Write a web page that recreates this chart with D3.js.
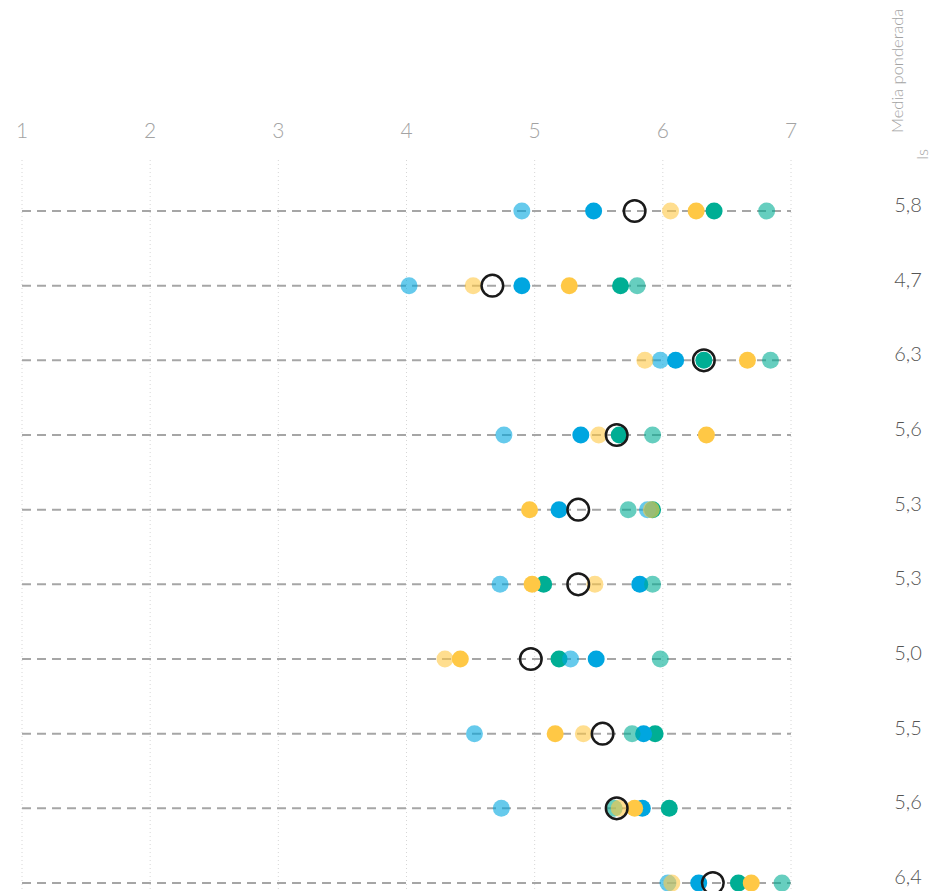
<!DOCTYPE html>
<html>
<head>
<meta charset="utf-8">
<script src="https://cdn.jsdelivr.net/npm/d3@7"></script>
<style>
  body { margin: 0; background: #fff; }
  text { font-family: Lato, "Open Sans", sans-serif; }
</style>
</head>
<body>
<div id="chart"></div>
<script>
const width = 933,
      height = 891;

// rows (no visible names in the picture)
const rows = ['r1', 'r2', 'r3', 'r4', 'r5', 'r6', 'r7', 'r8', 'r9', 'r10'];

// weighted mean per row
const means = [5.78, 4.67, 6.32, 5.64, 5.34, 5.34, 4.97, 5.53, 5.64, 6.39];

// series values, one array per series (same order as rows)
const tealVals      = [6.40, 5.67, 6.32, 5.66, 5.92, 5.07, 5.19, 5.94, 6.05, 6.59];
const blueVals      = [5.46, 4.90, 6.10, 5.36, 5.19, 5.82, 5.48, 5.85, 5.84, 6.28];
const yellowVals    = [6.26, 5.27, 6.66, 6.34, 4.96, 4.98, 4.42, 5.16, 5.78, 6.69];
const lightTealVals = [6.81, 5.80, 6.84, 5.92, 5.73, 5.92, 5.98, 5.76, 5.62, 6.93];
const lightBlueVals = [4.90, 4.02, 5.98, 4.76, 5.88, 4.73, 5.28, 4.53, 4.74, 6.04];
const lightYellowVals = [6.06, 4.52, 5.86, 5.50, 5.91, 5.47, 4.30, 5.38, 5.66, 6.07];

const series = [
  { key: 'teal', values: tealVals, color: '#00ae94', opacity: 1 },
  { key: 'blue', values: blueVals, color: '#00a6e0', opacity: 1 },
  { key: 'yellow', values: yellowVals, color: '#ffc845', opacity: 1 },
  { key: 'lightTeal', values: lightTealVals, color: '#00ae94', opacity: 0.6 },
  { key: 'lightBlue', values: lightBlueVals, color: '#00a6e0', opacity: 0.6 },
  { key: 'lightYellow', values: lightYellowVals, color: '#ffc845', opacity: 0.6 }
];

const xTicks = [1, 2, 3, 4, 5, 6, 7];

const svg = d3.select('#chart').append('svg')
    .attr('width', width)
    .attr('height', height);

const xScale = d3.scaleLinear()
    .domain([1, 7])
    .range([22, 791]);

const yScale = d3.scalePoint()
    .domain(rows)
    .range([211, 883]);

const fmt = d => d3.format('.1f')(d).replace('.', ',');

// vertical dotted grid
svg.append('g')
  .selectAll('line')
  .data(xTicks)
  .enter().append('line')
    .attr('x1', d => xScale(d))
    .attr('x2', d => xScale(d))
    .attr('y1', 160)
    .attr('y2', height)
    .attr('stroke', '#d6d6d6')
    .attr('stroke-width', 1)
    .attr('stroke-dasharray', '1,3');

// top axis labels
svg.append('g')
  .selectAll('text')
  .data(xTicks)
  .enter().append('text')
    .attr('x', d => xScale(d))
    .attr('y', 138)
    .attr('text-anchor', 'middle')
    .attr('font-size', 21)
    .attr('font-weight', 300)
    .attr('fill', '#a3a3a3')
    .text(d => d);

// dashed row lines
svg.append('g')
  .selectAll('line')
  .data(rows)
  .enter().append('line')
    .attr('x1', xScale(1))
    .attr('x2', xScale(7))
    .attr('y1', d => yScale(d))
    .attr('y2', d => yScale(d))
    .attr('stroke', '#a6a6a6')
    .attr('stroke-width', 2)
    .attr('stroke-dasharray', '9,6');

// dots
const dotG = svg.selectAll('.dotG')
  .data(series)
  .enter().append('g')
    .attr('class', 'dotG')
    .attr('fill', d => d.color)
    .attr('fill-opacity', d => d.opacity);

dotG.selectAll('circle')
  .data(d => d.values.map((v, i) => ({ v: v, row: rows[i] })))
  .enter().append('circle')
    .attr('cx', d => xScale(d.v))
    .attr('cy', d => yScale(d.row))
    .attr('r', 8.5);

// weighted mean rings
svg.append('g')
  .selectAll('circle')
  .data(means)
  .enter().append('circle')
    .attr('cx', d => xScale(d))
    .attr('cy', (d, i) => yScale(rows[i]))
    .attr('r', 10.8)
    .attr('fill', 'none')
    .attr('stroke', '#1a1a1a')
    .attr('stroke-width', 2.5);

// right column values
svg.append('g')
  .selectAll('text')
  .data(means)
  .enter().append('text')
    .attr('x', 908)
    .attr('y', (d, i) => yScale(rows[i]) + 1)
    .attr('text-anchor', 'middle')
    .attr('font-size', 20)
    .attr('font-weight', 300)
    .attr('fill', '#555')
    .text(d => fmt(d));

// rotated header
const header = svg.append('text')
    .attr('transform', 'translate(903,133) rotate(-90)')
    .attr('font-size', 16.5)
    .attr('font-weight', 300)
    .attr('fill', '#a3a3a3');
header.append('tspan').attr('x', 0).attr('y', 0).text('Media ponderada');
header.append('tspan').attr('x', -27).attr('y', 25).text('Is');
</script>
</body>
</html>
